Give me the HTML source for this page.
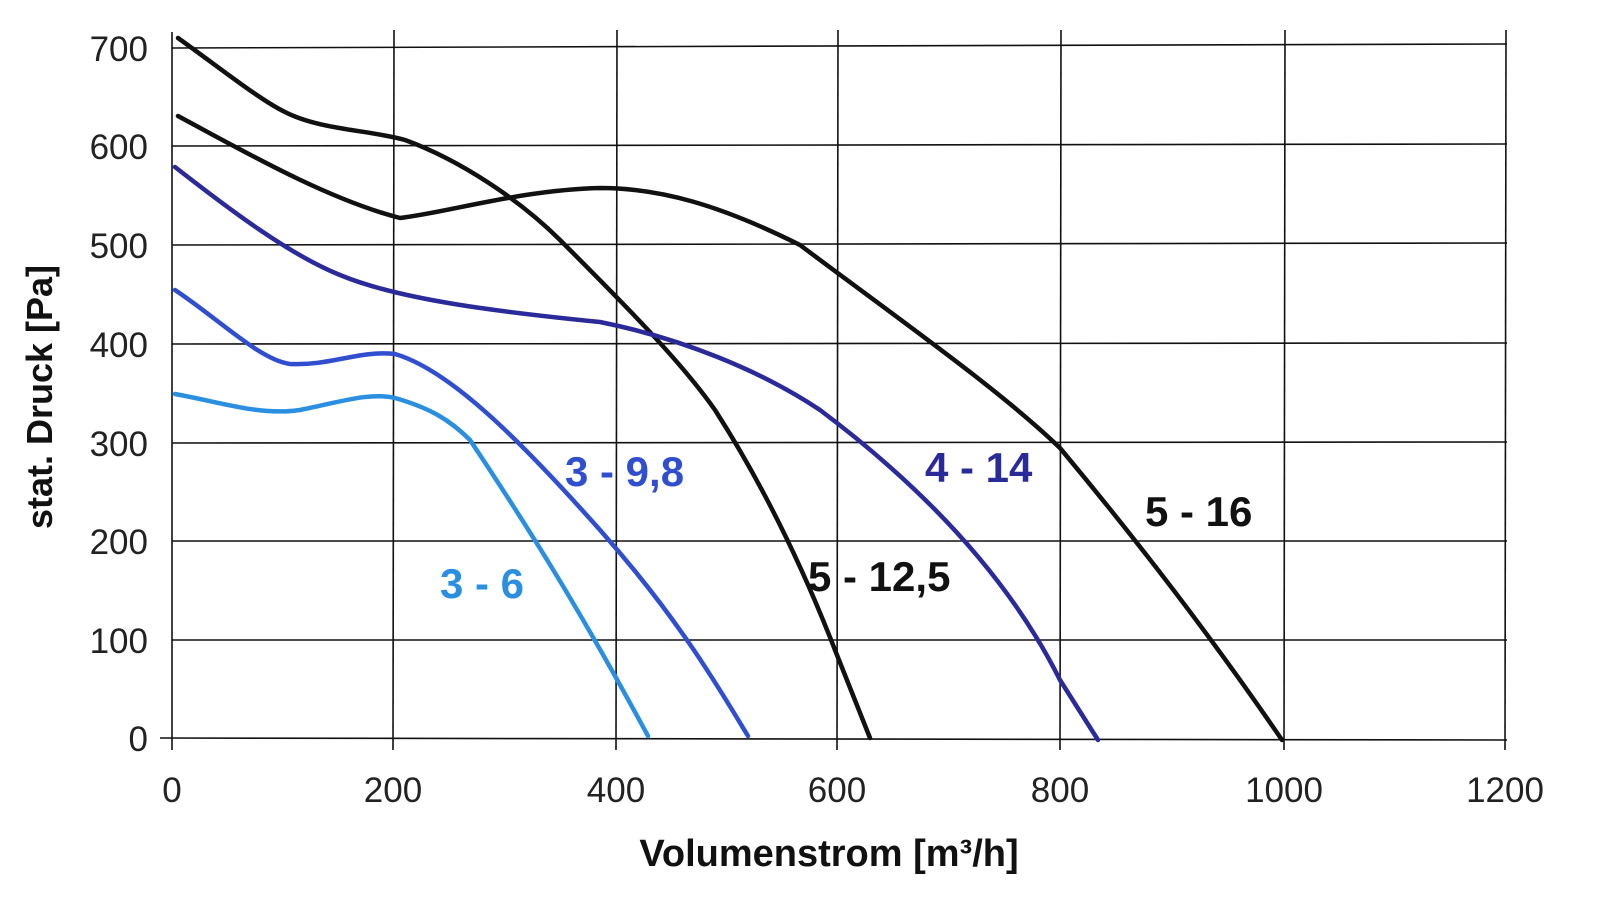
<!DOCTYPE html>
<html><head><meta charset="utf-8"><style>
body{margin:0;background:#fff}
svg{display:block}
text{font-family:"Liberation Sans",sans-serif}
</style></head><body>
<svg width="1600" height="909" viewBox="0 0 1600 909">
<rect width="1600" height="909" fill="#fff"/>
<g stroke="#111" stroke-width="1.6" fill="none">
<line x1="172" y1="48" x2="1507" y2="44"/>
<line x1="172" y1="146" x2="1507" y2="144"/>
<line x1="172" y1="245" x2="1507" y2="243"/>
<line x1="172" y1="344" x2="1507" y2="343"/>
<line x1="172" y1="443" x2="1507" y2="442"/>
<line x1="172" y1="541" x2="1507" y2="541"/>
<line x1="172" y1="640" x2="1507" y2="640"/>
<line x1="160" y1="738" x2="1507" y2="740"/>
<line x1="172" y1="32" x2="172" y2="750"/>
<line x1="394" y1="30" x2="393" y2="750"/>
<line x1="617" y1="30" x2="616" y2="750"/>
<line x1="838" y1="30" x2="837" y2="750"/>
<line x1="1061" y1="30" x2="1060" y2="750"/>
<line x1="1285" y1="30" x2="1284" y2="750"/>
<line x1="1506" y1="30" x2="1505" y2="750"/>
</g>
<g fill="none" stroke-width="4.5" stroke-linecap="round" stroke-linejoin="round">
<path stroke="#111" d="M178,38 C220,68 260,100 285,112 C320,130 370,130 405,140 C460,160 520,200 560,240 C620,300 680,360 715,410 C760,480 800,560 835,650 L870,738"/>
<path stroke="#111" d="M178,116 C250,155 330,200 400,218 C450,212 520,190 600,188 C660,188 720,205 800,245 C900,320 1000,390 1060,448 C1120,520 1200,620 1282,740"/>
<path stroke="#2a2a9a" d="M175,167 C230,210 290,255 340,275 C400,300 500,312 600,322 C680,338 760,370 820,410 C900,470 1000,560 1060,680 L1098,740"/>
<path stroke="#2f4fd0" d="M175,290 C220,320 260,360 290,364 C330,366 360,350 395,354 C450,370 520,440 600,530 C680,620 720,690 748,736"/>
<path stroke="#2a8fe0" d="M175,394 C220,402 260,416 300,410 C340,402 370,392 395,398 C430,408 450,420 470,440 C530,530 580,610 648,736"/>
</g>
<g font-size="35" fill="#222" text-anchor="end">
<text x="148" y="61">700</text><text x="148" y="159">600</text><text x="148" y="258">500</text>
<text x="148" y="357">400</text><text x="148" y="456">300</text><text x="148" y="554">200</text>
<text x="148" y="653">100</text><text x="148" y="751">0</text>
</g>
<g font-size="35" fill="#222" text-anchor="middle">
<text x="172" y="802">0</text><text x="393" y="802">200</text><text x="616" y="802">400</text>
<text x="837" y="802">600</text><text x="1060" y="802">800</text><text x="1284" y="802">1000</text><text x="1505" y="802">1200</text>
</g>
<text x="829" y="866" font-size="38" font-weight="bold" text-anchor="middle" fill="#111">Volumenstrom [m³/h]</text>
<text transform="translate(52,397) rotate(-90)" font-size="36" font-weight="bold" text-anchor="middle" fill="#111">stat. Druck [Pa]</text>
<g font-size="42" font-weight="bold">
<text x="440" y="598" fill="#2a8fe0">3 - 6</text>
<text x="565" y="486" fill="#2f4fd0">3 - 9,8</text>
<text x="808" y="591" fill="#111">5 - 12,5</text>
<text x="925" y="482" fill="#2a2a9a">4 - 14</text>
<text x="1145" y="526" fill="#111">5 - 16</text>
</g>
</svg>
</body></html>
